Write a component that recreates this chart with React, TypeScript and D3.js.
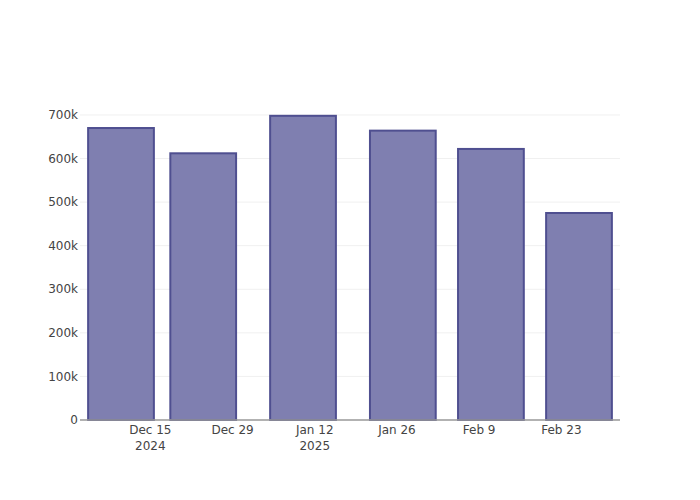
import { useEffect, useRef } from 'react';
import * as d3 from 'd3';

const dates = ['2024-12-10', '2024-12-24', '2025-01-10', '2025-01-27', '2025-02-11', '2025-02-26'];
const values = [670000, 612000, 698000, 664000, 622000, 475000];
const tickDates = ['2024-12-15', '2024-12-29', '2025-01-12', '2025-01-26', '2025-02-09', '2025-02-23'];
const tickLabels = [['Dec 15', '2024'], ['Dec 29'], ['Jan 12', '2025'], ['Jan 26'], ['Feb 9'], ['Feb 23']];
const yTicks = [0, 100000, 200000, 300000, 400000, 500000, 600000, 700000];

const parse = d3.utcParse('%Y-%m-%d');

export default function App() {
  const ref = useRef<SVGSVGElement>(null);

  useEffect(() => {
    if (!ref.current) return;
    const svg = d3.select(ref.current);
    svg.selectAll('*').remove();

    const width = 700;
    const height = 500;
    const margin = { top: 100, right: 80, bottom: 80, left: 80 };
    const innerW = width - margin.left - margin.right;
    const innerH = height - margin.top - margin.bottom;
    const font = '"DejaVu Sans", sans-serif';

    const t = dates.map((d) => parse(d)!.getTime());
    let minDiff = Infinity;
    for (let i = 1; i < t.length; i++) minDiff = Math.min(minDiff, t[i] - t[i - 1]);
    const barW = minDiff * 0.8;
    const lo = t[0] - barW / 2;
    const hi = t[t.length - 1] + barW / 2;
    const pad = (hi - lo) * 0.0155;

    const x = d3.scaleLinear().domain([lo - pad, hi + pad]).range([0, innerW]);
    const y = d3.scaleLinear().domain([0, (d3.max(values) ?? 0) * 1.052]).range([innerH, 0]);

    const g = svg.append('g').attr('transform', `translate(${margin.left},${margin.top})`);

    // grid
    g.selectAll('line.grid')
      .data(yTicks.slice(1))
      .join('line')
      .attr('x1', 0)
      .attr('x2', innerW)
      .attr('y1', (d) => y(d))
      .attr('y2', (d) => y(d))
      .attr('stroke', '#f0f0f0')
      .attr('stroke-width', 1);

    // bars
    g.selectAll('rect')
      .data(values)
      .join('rect')
      .attr('x', (_, i) => x(t[i] - barW / 2))
      .attr('width', (_, i) => x(t[i] + barW / 2) - x(t[i] - barW / 2))
      .attr('y', (d) => y(d))
      .attr('height', (d) => innerH - y(d))
      .attr('fill', '#7f7fb0')
      .attr('stroke', '#4f4f90')
      .attr('stroke-width', 2);

    // x axis line
    g.append('line')
      .attr('x1', 0)
      .attr('x2', innerW)
      .attr('y1', innerH)
      .attr('y2', innerH)
      .attr('stroke', '#999999')
      .attr('stroke-width', 1.5);

    // y labels
    g.selectAll('text.y')
      .data(yTicks)
      .join('text')
      .attr('x', -2)
      .attr('y', (d) => y(d))
      .attr('dy', '0.35em')
      .attr('text-anchor', 'end')
      .attr('font-family', font)
      .attr('font-size', 12)
      .attr('fill', '#444')
      .text((d) => (d === 0 ? '0' : `${d / 1000}k`));

    // x labels
    const xl = g
      .selectAll('text.x')
      .data(tickDates)
      .join('text')
      .attr('x', (d) => x(parse(d)!.getTime()))
      .attr('y', innerH + 14)
      .attr('text-anchor', 'middle')
      .attr('font-family', font)
      .attr('font-size', 12)
      .attr('fill', '#444');
    xl.each(function (_, i) {
      const el = d3.select(this);
      tickLabels[i].forEach((s, j) => {
        el.append('tspan')
          .attr('x', x(parse(tickDates[i])!.getTime()))
          .attr('dy', j === 0 ? 0 : 16)
          .text(s);
      });
    });
  }, []);

  return <svg ref={ref} width={700} height={500} style={{ display: 'block', margin: -8 }} />;
}
